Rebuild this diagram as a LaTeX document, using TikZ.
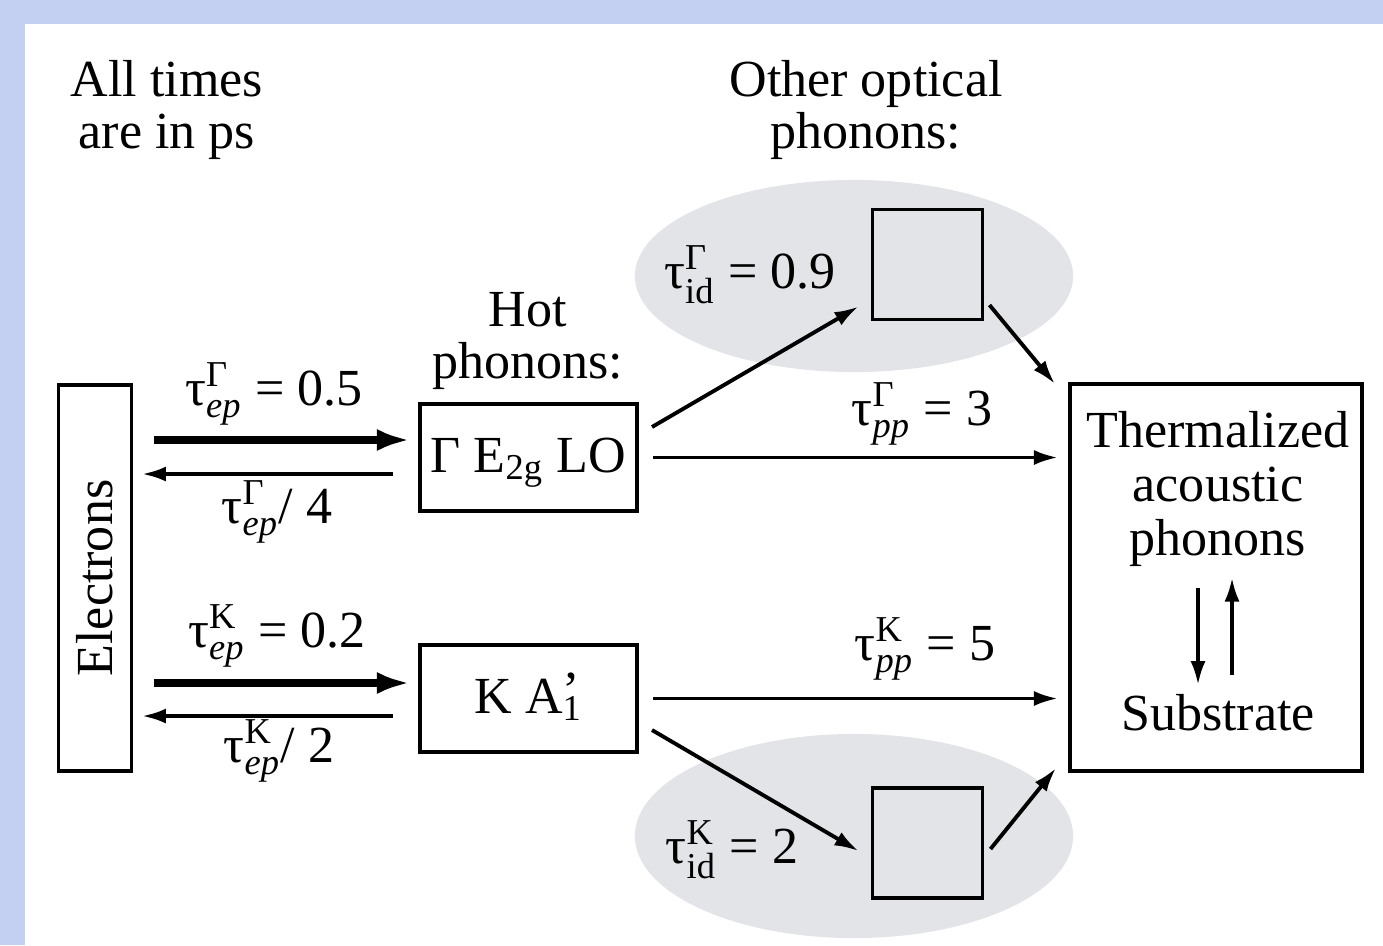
\documentclass[tikz,border=0pt]{standalone}
\usepackage{amsmath}
\usepackage{fontspec}
\setmainfont{Liberation Serif}
\usetikzlibrary{arrows.meta}
\definecolor{slideblue}{RGB}{196,208,242}
\definecolor{cloudgray}{RGB}{227,228,231}
\newcommand{\tauof}[2]{τ$^{\text{#1}}_{\text{#2}}$}

\begin{document}
\begin{tikzpicture}[x=0.01cm, y=-0.01cm,
    every node/.style={font=\fontsize{14.8}{14.6}\selectfont, inner sep=0pt},
    box/.style={draw, line width=1.1pt},
    phbox/.style={box, minimum width=2.17cm, text height=0.68cm, text depth=0.39cm},
    sqbox/.style={box, minimum size=1.1cm},
    lbl/.style={anchor=base},
    thickarr/.style={line width=2.3pt, -{Latex[length=0.33cm,width=0.22cm]}},
    thinarr/.style={line width=1.1pt, -{Latex[length=0.24cm,width=0.15cm]}}]
    % Draw the slide background
    \fill[slideblue] (0,0) rectangle (1383,945);
    \fill[white] (25,24) rectangle (1383,945);
    \useasboundingbox (0,0) rectangle (1383,945);

    % Grey clouds of other optical phonons
    \fill[cloudgray] (854,276) ellipse [x radius=2.19cm, y radius=0.96cm];
    \fill[cloudgray] (854,836) ellipse [x radius=2.19cm, y radius=1.02cm];

    % Boxes
    \node[box, minimum width=0.73cm, minimum height=3.86cm] (el) at (95,578) {\rotatebox{90}{Electrons}};
    \node[phbox] (gb) at (528.5,457.5) {Γ E$_{\text{2g}}$ LO};
    \node[phbox] (kb) at (528.5,698.5) {K A\rlap{\raisebox{0.1em}{’}}$_{\text{1}}$};
    \node[sqbox] (sq1) at (927.5,264.5) {};
    \node[sqbox] (sq2) at (927.5,843) {};
    \node[box, minimum width=2.92cm, minimum height=3.87cm] (tm) at (1216,577.5) {};

    % Headings (base = last line)
    \node[lbl, align=center] (note) at (167,148) {All times\\are in ps};
    \node[lbl, align=center] (other) at (866,148) {Other optical\\phonons:};
    \node[lbl, align=center] (hot) at (528,378) {Hot\\phonons:};
    \node[lbl, align=center, font=\fontsize{14.8}{15.3}\selectfont] (tmtxt) at (1218,555) {Thermalized\\acoustic\\phonons};
    \node[lbl] (sub) at (1218,730) {Substrate};

    % Time constants
    \node[lbl] (epG) at (274,405) {\tauof{Γ}{\textit{ep}} = 0.5};
    \node[lbl] (epGb) at (277,523) {\tauof{Γ}{\textit{ep}}/ 4};
    \node[lbl] (epK) at (277,647) {\tauof{K}{\textit{ep}} = 0.2};
    \node[lbl] (epKb) at (279,762) {\tauof{K}{\textit{ep}}/ 2};
    \node[lbl] (idG) at (750,288) {\tauof{Γ}{id} = 0.9};
    \node[lbl] (ppG) at (922,425) {\tauof{Γ}{\textit{pp}} = 3};
    \node[lbl] (ppK) at (925,660) {\tauof{K}{\textit{pp}} = 5};
    \node[lbl] (idK) at (732,863) {\tauof{K}{id} = 2};

    % Electron-phonon exchange
    \foreach \ph/\up/\dn in {gb/0.175/-0.165, kb/0.155/-0.175} {
        \draw[thickarr] ([xshift=0.205cm,yshift=\up cm]\ph.west -| el.east) -- ([xshift=-0.08cm,yshift=\up cm]\ph.west);
        \draw[thinarr] ([xshift=-0.25cm,yshift=\dn cm]\ph.west) -- ([xshift=0.085cm,yshift=\dn cm]\ph.west -| el.east);
    }

    % Phonon-phonon decay
    \foreach \ph in {gb,kb}
        \draw[thinarr] ([xshift=0.14cm]\ph.east) -- ([xshift=-0.1cm]\ph.east -| tm.west);
    \draw[thinarr] ([xshift=0.13cm,yshift=0.305cm]gb.east) -- ([xshift=-0.12cm,yshift=-0.42cm]sq1.west);
    \draw[thinarr] ([xshift=0.05cm,yshift=-0.405cm]sq1.east) -- ([xshift=-0.13cm,yshift=-0.02cm]tm.north west);
    \draw[thinarr] ([xshift=0.13cm,yshift=-0.315cm]kb.east) -- ([xshift=-0.12cm,yshift=-0.08cm]sq2.west);
    \draw[thinarr] ([xshift=0.06cm,yshift=-0.06cm]sq2.east) -- ([xshift=-0.12cm,yshift=0.05cm]tm.south west);

    % Exchange with the substrate
    \draw[thinarr] ([xshift=-0.18cm,yshift=-0.105cm]tm.center) -- ([xshift=-0.18cm,yshift=-1.075cm]tm.center);
    \draw[thinarr] ([xshift=0.16cm,yshift=-0.975cm]tm.center) -- ([xshift=0.16cm,yshift=0cm]tm.center);
\end{tikzpicture}
\end{document}
